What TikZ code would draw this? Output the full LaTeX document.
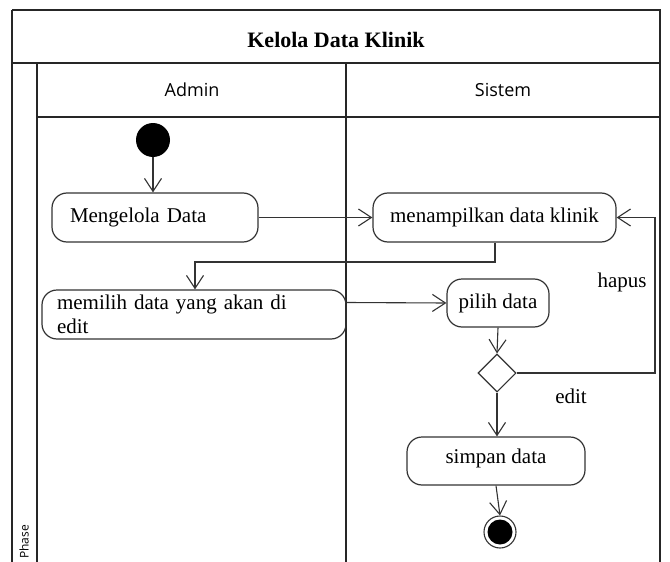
\documentclass[tikz,border=0pt]{standalone}
\usepackage{fontspec}
\setmainfont{Liberation Serif}
\setsansfont{Open Sans}
\usetikzlibrary{arrows.meta,shapes.geometric,calc}
\begin{document}
\begin{tikzpicture}[x=1pt,y=-1pt,
  frame/.style={line width=1.3pt,draw=black!85},
  act/.style={draw=black!80,line width=1.2pt,rounded corners=15pt,minimum height=49pt,inner sep=0pt,font=\fontsize{21}{24}\selectfont},
  flow/.style={draw=black!80,line width=1.1pt,-{Straight Barb[length=13pt,width=17pt,line width=1.1pt]}},
  lbl/.style={font=\fontsize{21}{24}\selectfont,inner sep=0pt},
  hdr/.style={font=\sffamily\fontsize{18}{20}\selectfont,inner sep=0pt}]
\useasboundingbox (0,0) rectangle (670,562);
\clip (0,0) rectangle (670,562);
\fill[white] (0,0) rectangle (670,562);
% frame and lanes
\draw[frame] (12,10) -- (660,10) -- (660,575);
\draw[frame] (12,10) -- (12,575);
\draw[frame] (12,63) -- (660,63);
\draw[frame] (37,63) -- (37,575);
\draw[frame] (37,117) -- (660,117);
\draw[frame] (346,63) -- (346,575);
\node[font=\bfseries\fontsize{22}{24}\selectfont,inner sep=0pt] (title) at (336,40) {Kelola Data Klinik};
\node[hdr] (admin) at (192,90) {Admin};
\node[hdr] (sistem) at (503,90) {Sistem};
\node[font=\sffamily\fontsize{12}{14}\selectfont,rotate=90,inner sep=0pt] (phase) at (24,542) {Phase};
% nodes
\node[circle,fill=black,minimum size=34pt,inner sep=0pt] (start) at (153,140) {};
\node[act,minimum width=206pt,text width=170pt,align=left] (kelola) at (155,217.5) {Mengelola Data};
\node[act,minimum width=243pt,align=center] (tampil) at (494.5,217.5) {menampilkan data klinik};
\node[act,minimum width=304pt,text width=274pt,align=left] (pilihedit) at (194,314.5) {memilih data yang akan di\\edit};
\node[act,minimum width=102pt,minimum height=48pt] (pilih) at (498,303) {pilih data};
\node[diamond,draw=black!80,line width=1.1pt,minimum width=38pt,minimum height=38pt,inner sep=0pt] (dec) at (497,373) {};
\node[act,minimum width=178pt,minimum height=48pt] (simpan) at (496,461) {\raisebox{9pt}{simpan data}};
\node[circle,draw=black!80,line width=1.1pt,minimum size=32pt,inner sep=0pt] (end) at (500,532) {};
\fill[black] (end.center) circle (12.5pt);
% connectors
\coordinate (c1) at (495,262);
\coordinate (c2) at (195,262);
\coordinate (r1) at (655,373);
\coordinate (r2) at (655,217.5);
\draw[flow] (start) -- (start |- kelola.north);
\draw[flow] (kelola.east) -- (tampil.west);
\draw[flow] (tampil.south -| c1) -- (c1) -- (c2) -- (c2 |- pilihedit.north);
\draw[flow] ($(pilihedit.east)+(0,-12)$) -- (pilih.west);
\draw[flow] (pilih.south) -- (dec.north);
\draw[flow] (dec.east) -- (r1) -- (r2) -- (tampil.east);
\draw[flow] (dec.south) -- (simpan.north -| dec.south);
\draw[flow] (simpan.south) -- (end.north);
\node[lbl] (hapus) at (622,282) {hapus};
\node[lbl] (edit) at (571,396) {edit};
\end{tikzpicture}
\end{document}
